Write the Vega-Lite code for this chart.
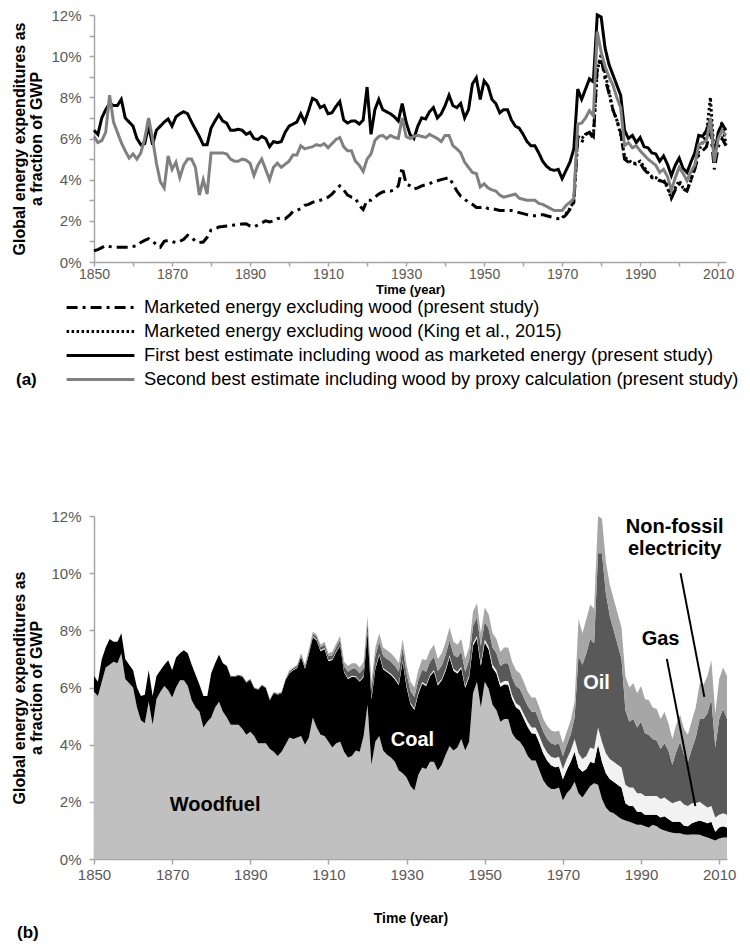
{
"$schema": "https://vega.github.io/schema/vega-lite/v6.json",
"background": "white",
"padding": {"left": 11, "top": 8, "right": 5, "bottom": 5},
"spacing": 120,
"columns": 1,
"align": "none",
"resolve": {"scale": {"color": "independent", "strokeDash": "independent"}, "legend": {"color": "independent", "strokeDash": "independent"}},
"config": {
 "view": {"stroke": null},
 "font": "Liberation Sans",
 "axis": {"grid": false, "domainColor": "#a6a6a6", "tickColor": "#a6a6a6", "labelColor": "#595959", "labelFontSize": 15, "labelFont": "Liberation Sans", "titleFont": "Liberation Sans", "titleFontSize": 14, "titleFontWeight": "bold", "titleColor": "#000000", "tickSize": 5, "labelPadding": 3, "domainWidth": 1.5, "tickWidth": 1.5, "labelFlush": false, "labelOverlap": false},
 "axisY": {"labelPadding": 8, "titleFontSize": 16, "titleLineHeight": 17}
},
"datasets": {"energy": [
{"y":1850,"a":6.4,"b":6.1,"c":0.55,"w":5.85,"k":0.55,"g":0,"o":0,"e":0},
{"y":1851,"a":6.2,"b":5.8,"c":0.6,"w":5.7,"k":0.5,"g":0,"o":0,"e":0},
{"y":1852,"a":7.0,"b":5.9,"c":0.7,"w":6.2,"k":0.8,"g":0,"o":0,"e":0},
{"y":1853,"a":7.4,"b":6.3,"c":0.8,"w":6.7,"k":0.7,"g":0,"o":0,"e":0},
{"y":1854,"a":7.7,"b":8.1,"c":0.75,"w":6.8,"k":0.9,"g":0,"o":0,"e":0},
{"y":1855,"a":7.6,"b":6.8,"c":0.72,"w":6.9,"k":0.7,"g":0,"o":0,"e":0},
{"y":1856,"a":7.6,"b":6.3,"c":0.72,"w":6.85,"k":0.75,"g":0,"o":0,"e":0},
{"y":1857,"a":7.9,"b":5.8,"c":0.72,"w":7.2,"k":0.7,"g":0,"o":0,"e":0},
{"y":1858,"a":7.0,"b":5.4,"c":0.72,"w":6.3,"k":0.7,"g":0,"o":0,"e":0},
{"y":1859,"a":6.8,"b":5.05,"c":0.72,"w":6.15,"k":0.65,"g":0,"o":0,"e":0},
{"y":1860,"a":6.6,"b":5.25,"c":0.75,"w":6.0,"k":0.6,"g":0,"o":0,"e":0},
{"y":1861,"a":6.0,"b":5.0,"c":0.8,"w":5.3,"k":0.7,"g":0,"o":0,"e":0},
{"y":1862,"a":5.7,"b":5.3,"c":0.95,"w":4.85,"k":0.85,"g":0,"o":0,"e":0},
{"y":1863,"a":5.75,"b":6.0,"c":1.05,"w":4.75,"k":1.0,"g":0,"o":0,"e":0},
{"y":1864,"a":6.6,"b":7.0,"c":1.13,"w":5.5,"k":1.1,"g":0,"o":0,"e":0},
{"y":1865,"a":5.7,"b":6.0,"c":1.0,"w":4.7,"k":1.0,"g":0,"o":0,"e":0},
{"y":1866,"a":6.4,"b":4.8,"c":0.85,"w":5.6,"k":0.8,"g":0,"o":0,"e":0},
{"y":1867,"a":6.6,"b":3.9,"c":0.72,"w":5.85,"k":0.75,"g":0,"o":0,"e":0},
{"y":1868,"a":6.8,"b":3.6,"c":1.0,"w":6.05,"k":0.75,"g":0,"o":0,"e":0},
{"y":1869,"a":6.95,"b":5.15,"c":1.05,"w":5.9,"k":1.05,"g":0,"o":0,"e":0},
{"y":1870,"a":6.6,"b":4.5,"c":1.0,"w":5.65,"k":0.95,"g":0,"o":0,"e":0},
{"y":1871,"a":7.05,"b":4.85,"c":0.94,"w":6.0,"k":1.05,"g":0,"o":0,"e":0},
{"y":1872,"a":7.2,"b":4.1,"c":1.0,"w":6.25,"k":0.95,"g":0,"o":0,"e":0},
{"y":1873,"a":7.3,"b":4.7,"c":1.1,"w":6.25,"k":1.05,"g":0,"o":0,"e":0},
{"y":1874,"a":7.2,"b":5.0,"c":1.3,"w":6.05,"k":1.15,"g":0,"o":0,"e":0},
{"y":1875,"a":6.8,"b":5.0,"c":1.2,"w":5.55,"k":1.25,"g":0,"o":0,"e":0},
{"y":1876,"a":6.45,"b":4.6,"c":1.0,"w":5.3,"k":1.15,"g":0,"o":0,"e":0},
{"y":1877,"a":6.1,"b":3.25,"c":0.95,"w":5.15,"k":0.95,"g":0,"o":0,"e":0},
{"y":1878,"a":5.7,"b":4.0,"c":0.97,"w":4.6,"k":1.1,"g":0,"o":0,"e":0},
{"y":1879,"a":5.7,"b":3.3,"c":1.2,"w":4.8,"k":0.9,"g":0,"o":0,"e":0},
{"y":1880,"a":6.5,"b":5.3,"c":1.55,"w":4.95,"k":1.55,"g":0,"o":0,"e":0},
{"y":1881,"a":6.85,"b":5.3,"c":1.6,"w":5.3,"k":1.55,"g":0,"o":0,"e":0},
{"y":1882,"a":7.15,"b":5.3,"c":1.7,"w":5.5,"k":1.65,"g":0,"o":0,"e":0},
{"y":1883,"a":6.85,"b":5.3,"c":1.72,"w":5.15,"k":1.7,"g":0,"o":0,"e":0},
{"y":1884,"a":6.75,"b":5.25,"c":1.75,"w":4.95,"k":1.8,"g":0,"o":0,"e":0},
{"y":1885,"a":6.4,"b":5.0,"c":1.78,"w":4.7,"k":1.67,"g":0,"o":0.03,"e":0},
{"y":1886,"a":6.4,"b":4.9,"c":1.8,"w":4.7,"k":1.67,"g":0,"o":0.03,"e":0},
{"y":1887,"a":6.45,"b":4.9,"c":1.82,"w":4.7,"k":1.72,"g":0,"o":0.03,"e":0},
{"y":1888,"a":6.4,"b":5.0,"c":1.85,"w":4.55,"k":1.82,"g":0,"o":0.03,"e":0},
{"y":1889,"a":6.2,"b":4.95,"c":1.86,"w":4.35,"k":1.82,"g":0,"o":0.03,"e":0},
{"y":1890,"a":6.3,"b":4.8,"c":1.75,"w":4.45,"k":1.82,"g":0,"o":0.03,"e":0},
{"y":1891,"a":6.0,"b":4.2,"c":1.7,"w":4.3,"k":1.67,"g":0,"o":0.03,"e":0},
{"y":1892,"a":5.95,"b":4.7,"c":1.8,"w":4.05,"k":1.87,"g":0,"o":0.03,"e":0},
{"y":1893,"a":6.1,"b":5.0,"c":1.9,"w":4.05,"k":2.02,"g":0,"o":0.03,"e":0},
{"y":1894,"a":6.0,"b":4.5,"c":2.0,"w":4.05,"k":1.92,"g":0,"o":0.03,"e":0},
{"y":1895,"a":5.6,"b":4.0,"c":1.95,"w":3.85,"k":1.7,"g":0,"o":0.03,"e":0.02},
{"y":1896,"a":5.85,"b":4.6,"c":2.0,"w":3.75,"k":2.05,"g":0,"o":0.03,"e":0.02},
{"y":1897,"a":5.8,"b":4.8,"c":2.1,"w":3.6,"k":2.15,"g":0,"o":0.03,"e":0.02},
{"y":1898,"a":5.85,"b":4.6,"c":2.15,"w":3.75,"k":2.05,"g":0,"o":0.03,"e":0.02},
{"y":1899,"a":6.3,"b":4.75,"c":2.1,"w":4.0,"k":2.25,"g":0,"o":0.03,"e":0.02},
{"y":1900,"a":6.6,"b":4.9,"c":2.25,"w":4.25,"k":2.25,"g":0.02,"o":0.05,"e":0.03},
{"y":1901,"a":6.7,"b":5.2,"c":2.45,"w":4.2,"k":2.4,"g":0.02,"o":0.05,"e":0.03},
{"y":1902,"a":6.8,"b":5.2,"c":2.5,"w":4.25,"k":2.43,"g":0.02,"o":0.06,"e":0.04},
{"y":1903,"a":7.2,"b":5.65,"c":2.6,"w":4.3,"k":2.78,"g":0.02,"o":0.06,"e":0.04},
{"y":1904,"a":6.8,"b":5.5,"c":2.75,"w":4.0,"k":2.66,"g":0.02,"o":0.07,"e":0.05},
{"y":1905,"a":7.35,"b":5.55,"c":2.8,"w":4.25,"k":2.93,"g":0.03,"o":0.08,"e":0.06},
{"y":1906,"a":7.95,"b":5.6,"c":2.9,"w":4.95,"k":2.81,"g":0.03,"o":0.09,"e":0.07},
{"y":1907,"a":7.85,"b":5.7,"c":2.95,"w":4.6,"k":3.04,"g":0.03,"o":0.1,"e":0.08},
{"y":1908,"a":7.5,"b":5.65,"c":3.0,"w":4.35,"k":2.92,"g":0.03,"o":0.11,"e":0.09},
{"y":1909,"a":7.6,"b":5.75,"c":3.05,"w":4.3,"k":3.05,"g":0.03,"o":0.12,"e":0.1},
{"y":1910,"a":7.2,"b":5.55,"c":3.15,"w":4.1,"k":2.83,"g":0.03,"o":0.13,"e":0.11},
{"y":1911,"a":7.25,"b":5.75,"c":3.3,"w":3.9,"k":3.06,"g":0.03,"o":0.14,"e":0.12},
{"y":1912,"a":7.55,"b":5.95,"c":3.5,"w":4.05,"k":3.19,"g":0.03,"o":0.15,"e":0.13},
{"y":1913,"a":7.8,"b":6.05,"c":3.7,"w":4.1,"k":3.37,"g":0.03,"o":0.16,"e":0.14},
{"y":1914,"a":6.9,"b":5.6,"c":3.5,"w":3.75,"k":2.78,"g":0.03,"o":0.18,"e":0.16},
{"y":1915,"a":6.75,"b":5.4,"c":3.25,"w":3.55,"k":2.75,"g":0.03,"o":0.22,"e":0.2},
{"y":1916,"a":6.85,"b":5.4,"c":3.15,"w":3.6,"k":2.78,"g":0.03,"o":0.24,"e":0.2},
{"y":1917,"a":6.85,"b":4.9,"c":3.1,"w":3.8,"k":2.56,"g":0.03,"o":0.26,"e":0.2},
{"y":1918,"a":6.7,"b":4.7,"c":2.75,"w":3.75,"k":2.46,"g":0.03,"o":0.26,"e":0.2},
{"y":1919,"a":6.9,"b":4.4,"c":2.55,"w":4.3,"k":2.07,"g":0.03,"o":0.28,"e":0.22},
{"y":1920,"a":8.5,"b":5.0,"c":3.0,"w":5.4,"k":2.55,"g":0.03,"o":0.3,"e":0.22},
{"y":1921,"a":6.2,"b":5.25,"c":3.0,"w":3.3,"k":2.28,"g":0.04,"o":0.32,"e":0.26},
{"y":1922,"a":7.4,"b":5.9,"c":3.15,"w":4.1,"k":2.56,"g":0.04,"o":0.4,"e":0.3},
{"y":1923,"a":7.9,"b":6.1,"c":3.3,"w":4.3,"k":2.84,"g":0.04,"o":0.42,"e":0.3},
{"y":1924,"a":7.4,"b":6.15,"c":3.4,"w":3.8,"k":2.84,"g":0.04,"o":0.42,"e":0.3},
{"y":1925,"a":7.3,"b":6.0,"c":3.45,"w":3.65,"k":2.89,"g":0.04,"o":0.42,"e":0.3},
{"y":1926,"a":7.2,"b":6.15,"c":3.45,"w":3.55,"k":2.89,"g":0.04,"o":0.42,"e":0.3},
{"y":1927,"a":7.05,"b":6.05,"c":3.5,"w":3.4,"k":2.89,"g":0.04,"o":0.42,"e":0.3},
{"y":1928,"a":6.85,"b":6.0,"c":3.7,"w":3.1,"k":2.99,"g":0.04,"o":0.42,"e":0.3},
{"y":1929,"a":7.7,"b":7.0,"c":4.6,"w":3.0,"k":3.91,"g":0.04,"o":0.45,"e":0.3},
{"y":1930,"a":6.8,"b":6.1,"c":3.8,"w":2.85,"k":3.16,"g":0.05,"o":0.42,"e":0.32},
{"y":1931,"a":6.2,"b":6.0,"c":3.7,"w":2.55,"k":2.86,"g":0.05,"o":0.42,"e":0.32},
{"y":1932,"a":6.0,"b":6.1,"c":3.55,"w":2.4,"k":2.82,"g":0.05,"o":0.4,"e":0.33},
{"y":1933,"a":6.6,"b":6.15,"c":3.6,"w":2.95,"k":2.83,"g":0.05,"o":0.42,"e":0.35},
{"y":1934,"a":7.0,"b":6.1,"c":3.7,"w":3.2,"k":2.94,"g":0.05,"o":0.43,"e":0.38},
{"y":1935,"a":6.95,"b":6.05,"c":3.75,"w":3.15,"k":2.9,"g":0.05,"o":0.45,"e":0.4},
{"y":1936,"a":7.3,"b":6.2,"c":3.8,"w":3.4,"k":3.0,"g":0.05,"o":0.45,"e":0.4},
{"y":1937,"a":7.5,"b":6.1,"c":3.9,"w":3.4,"k":3.16,"g":0.05,"o":0.47,"e":0.42},
{"y":1938,"a":7.0,"b":6.0,"c":3.95,"w":3.1,"k":2.98,"g":0.05,"o":0.45,"e":0.42},
{"y":1939,"a":7.2,"b":5.85,"c":4.0,"w":3.3,"k":2.95,"g":0.05,"o":0.47,"e":0.43},
{"y":1940,"a":7.6,"b":6.15,"c":4.05,"w":3.65,"k":2.94,"g":0.06,"o":0.5,"e":0.45},
{"y":1941,"a":8.1,"b":6.15,"c":4.1,"w":3.95,"k":3.12,"g":0.06,"o":0.52,"e":0.45},
{"y":1942,"a":7.6,"b":5.65,"c":3.8,"w":3.8,"k":2.79,"g":0.06,"o":0.5,"e":0.45},
{"y":1943,"a":7.5,"b":5.5,"c":3.45,"w":3.9,"k":2.59,"g":0.06,"o":0.5,"e":0.45},
{"y":1944,"a":7.7,"b":5.3,"c":3.2,"w":4.2,"k":2.47,"g":0.06,"o":0.52,"e":0.45},
{"y":1945,"a":7.0,"b":4.85,"c":3.05,"w":3.8,"k":2.19,"g":0.06,"o":0.5,"e":0.45},
{"y":1946,"a":7.4,"b":4.6,"c":2.9,"w":4.1,"k":2.26,"g":0.07,"o":0.52,"e":0.45},
{"y":1947,"a":8.65,"b":4.35,"c":2.8,"w":5.8,"k":1.67,"g":0.08,"o":0.6,"e":0.5},
{"y":1948,"a":8.95,"b":4.3,"c":2.65,"w":6.2,"k":1.52,"g":0.08,"o":0.65,"e":0.5},
{"y":1949,"a":7.9,"b":3.65,"c":2.65,"w":5.3,"k":1.46,"g":0.09,"o":0.6,"e":0.45},
{"y":1950,"a":8.8,"b":3.8,"c":2.7,"w":6.2,"k":1.38,"g":0.1,"o":0.62,"e":0.5},
{"y":1951,"a":8.55,"b":3.6,"c":2.6,"w":5.95,"k":1.38,"g":0.1,"o":0.62,"e":0.5},
{"y":1952,"a":7.9,"b":3.5,"c":2.6,"w":5.4,"k":1.29,"g":0.11,"o":0.6,"e":0.5},
{"y":1953,"a":7.7,"b":3.45,"c":2.55,"w":5.2,"k":1.29,"g":0.11,"o":0.6,"e":0.5},
{"y":1954,"a":7.25,"b":3.25,"c":2.5,"w":4.8,"k":1.23,"g":0.12,"o":0.6,"e":0.5},
{"y":1955,"a":7.4,"b":3.15,"c":2.5,"w":4.9,"k":1.21,"g":0.12,"o":0.62,"e":0.55},
{"y":1956,"a":7.4,"b":3.2,"c":2.5,"w":4.9,"k":1.2,"g":0.13,"o":0.62,"e":0.55},
{"y":1957,"a":6.9,"b":3.25,"c":2.5,"w":4.4,"k":1.21,"g":0.14,"o":0.6,"e":0.55},
{"y":1958,"a":6.6,"b":3.3,"c":2.45,"w":4.2,"k":1.11,"g":0.14,"o":0.6,"e":0.55},
{"y":1959,"a":6.5,"b":3.1,"c":2.4,"w":4.1,"k":1.1,"g":0.15,"o":0.6,"e":0.55},
{"y":1960,"a":6.2,"b":3.05,"c":2.35,"w":3.9,"k":1.01,"g":0.16,"o":0.58,"e":0.55},
{"y":1961,"a":5.85,"b":3.0,"c":2.3,"w":3.6,"k":1.02,"g":0.18,"o":0.55,"e":0.5},
{"y":1962,"a":5.65,"b":3.0,"c":2.25,"w":3.45,"k":0.95,"g":0.2,"o":0.55,"e":0.5},
{"y":1963,"a":5.65,"b":3.0,"c":2.25,"w":3.45,"k":0.93,"g":0.22,"o":0.55,"e":0.5},
{"y":1964,"a":5.3,"b":2.85,"c":2.25,"w":3.1,"k":0.96,"g":0.24,"o":0.52,"e":0.48},
{"y":1965,"a":4.9,"b":2.8,"c":2.3,"w":2.75,"k":0.94,"g":0.26,"o":0.5,"e":0.45},
{"y":1966,"a":4.65,"b":2.7,"c":2.25,"w":2.55,"k":0.89,"g":0.28,"o":0.48,"e":0.45},
{"y":1967,"a":4.5,"b":2.6,"c":2.2,"w":2.45,"k":0.83,"g":0.3,"o":0.47,"e":0.45},
{"y":1968,"a":4.45,"b":2.5,"c":2.15,"w":2.45,"k":0.76,"g":0.32,"o":0.47,"e":0.45},
{"y":1969,"a":4.5,"b":2.5,"c":2.1,"w":2.5,"k":0.74,"g":0.34,"o":0.47,"e":0.45},
{"y":1970,"a":4.05,"b":2.5,"c":2.1,"d":2.15,"w":2.05,"k":0.74,"g":0.36,"o":0.45,"e":0.45},
{"y":1971,"a":4.45,"b":2.75,"c":2.3,"d":2.35,"w":2.3,"k":0.82,"g":0.38,"o":0.5,"e":0.45},
{"y":1972,"a":4.85,"b":2.9,"c":2.55,"d":2.6,"w":2.45,"k":0.95,"g":0.4,"o":0.55,"e":0.5},
{"y":1973,"a":5.5,"b":3.1,"c":2.9,"d":2.95,"w":2.7,"k":1.05,"g":0.45,"o":0.75,"e":0.55},
{"y":1974,"a":8.4,"b":6.7,"c":6.0,"d":6.1,"w":2.3,"k":0.9,"g":0.5,"o":3.4,"e":1.3},
{"y":1975,"a":7.9,"b":6.75,"c":5.8,"d":6.0,"w":2.15,"k":0.9,"g":0.45,"o":3.3,"e":1.1},
{"y":1976,"a":8.4,"b":7.0,"c":6.2,"d":6.2,"w":2.35,"k":0.8,"g":0.45,"o":3.6,"e":1.2},
{"y":1977,"a":8.9,"b":7.35,"c":6.3,"d":6.3,"w":2.55,"k":0.85,"g":0.5,"o":3.8,"e":1.2},
{"y":1978,"a":8.75,"b":7.1,"c":6.0,"d":6.1,"w":2.65,"k":0.7,"g":0.5,"o":3.7,"e":1.2},
{"y":1979,"a":12.0,"b":11.2,"c":9.5,"d":9.3,"w":2.6,"k":1.4,"g":0.6,"o":6.1,"e":1.3},
{"y":1980,"a":11.9,"b":10.2,"c":9.9,"d":10.1,"w":2.1,"k":1.3,"g":0.7,"o":6.6,"e":1.2},
{"y":1981,"a":10.4,"b":9.5,"c":8.9,"d":9.2,"w":1.8,"k":1.2,"g":0.7,"o":5.6,"e":1.1},
{"y":1982,"a":9.6,"b":9.0,"c":8.2,"d":8.3,"w":1.65,"k":1.15,"g":0.7,"o":5.0,"e":1.1},
{"y":1983,"a":9.1,"b":8.6,"c":7.4,"d":7.4,"w":1.6,"k":1.1,"g":0.7,"o":4.6,"e":1.1},
{"y":1984,"a":8.6,"b":8.0,"c":6.9,"d":6.9,"w":1.5,"k":1.1,"g":0.7,"o":4.2,"e":1.1},
{"y":1985,"a":8.1,"b":7.5,"c":6.3,"d":6.2,"w":1.4,"k":1.1,"g":0.7,"o":3.8,"e":1.1},
{"y":1986,"a":6.4,"b":5.65,"c":5.0,"d":5.1,"w":1.35,"k":0.6,"g":0.65,"o":2.6,"e":1.2},
{"y":1987,"a":6.0,"b":5.8,"c":4.85,"d":4.95,"w":1.3,"k":0.55,"g":0.65,"o":2.3,"e":1.2},
{"y":1988,"a":6.15,"b":5.55,"c":4.8,"d":4.8,"w":1.25,"k":0.6,"g":0.65,"o":2.4,"e":1.25},
{"y":1989,"a":5.8,"b":5.65,"c":4.75,"d":4.8,"w":1.2,"k":0.45,"g":0.65,"o":2.3,"e":1.2},
{"y":1990,"a":6.05,"b":5.4,"c":4.8,"d":4.9,"w":1.2,"k":0.45,"g":0.65,"o":2.5,"e":1.25},
{"y":1991,"a":5.6,"b":5.2,"c":4.5,"d":4.6,"w":1.15,"k":0.4,"g":0.65,"o":2.2,"e":1.2},
{"y":1992,"a":5.55,"b":5.0,"c":4.3,"d":4.35,"w":1.1,"k":0.45,"g":0.65,"o":2.15,"e":1.2},
{"y":1993,"a":5.3,"b":4.85,"c":4.1,"d":4.15,"w":1.2,"k":0.35,"g":0.65,"o":2.0,"e":1.1},
{"y":1994,"a":5.25,"b":4.7,"c":4.05,"d":4.1,"w":1.15,"k":0.4,"g":0.65,"o":1.95,"e":1.1},
{"y":1995,"a":4.9,"b":4.35,"c":3.95,"d":3.95,"w":1.05,"k":0.4,"g":0.65,"o":1.75,"e":1.05},
{"y":1996,"a":5.15,"b":4.5,"c":3.9,"d":4.0,"w":1.0,"k":0.5,"g":0.65,"o":1.9,"e":1.1},
{"y":1997,"a":4.75,"b":4.15,"c":3.75,"d":3.6,"w":0.95,"k":0.45,"g":0.65,"o":1.75,"e":0.95},
{"y":1998,"a":4.2,"b":3.5,"c":3.1,"d":3.1,"w":0.92,"k":0.38,"g":0.65,"o":1.35,"e":0.9},
{"y":1999,"a":4.7,"b":4.1,"c":3.5,"d":3.6,"w":0.9,"k":0.4,"g":0.7,"o":1.75,"e":0.95},
{"y":2000,"a":5.05,"b":4.6,"c":3.8,"d":3.95,"w":0.9,"k":0.4,"g":0.75,"o":2.05,"e":0.95},
{"y":2001,"a":4.55,"b":4.3,"c":3.55,"d":3.6,"w":0.86,"k":0.3,"g":0.75,"o":1.74,"e":0.9},
{"y":2002,"a":4.35,"b":3.95,"c":3.45,"d":3.5,"w":0.85,"k":0.3,"g":0.7,"o":1.55,"e":0.95},
{"y":2003,"a":4.85,"b":4.4,"c":4.0,"d":3.95,"w":0.86,"k":0.39,"g":0.7,"o":1.9,"e":1.0},
{"y":2004,"a":5.3,"b":4.7,"c":4.5,"d":4.6,"w":0.86,"k":0.44,"g":0.65,"o":2.3,"e":1.05},
{"y":2005,"a":6.15,"b":5.7,"c":5.2,"d":5.4,"w":0.85,"k":0.5,"g":0.65,"o":2.9,"e":1.25},
{"y":2006,"a":6.1,"b":5.8,"c":5.4,"d":5.8,"w":0.8,"k":0.5,"g":0.6,"o":3.0,"e":1.2},
{"y":2007,"a":6.4,"b":5.9,"c":5.6,"d":6.2,"w":0.75,"k":0.5,"g":0.55,"o":3.3,"e":1.3},
{"y":2008,"a":6.95,"b":7.0,"c":6.5,"d":8.0,"w":0.7,"k":0.6,"g":0.55,"o":3.75,"e":1.35},
{"y":2009,"a":5.1,"b":4.85,"c":4.5,"d":5.0,"w":0.65,"k":0.3,"g":0.5,"o":2.45,"e":1.2},
{"y":2010,"a":6.3,"b":6.0,"c":5.6,"d":6.2,"w":0.72,"k":0.38,"g":0.45,"o":3.35,"e":1.4},
{"y":2011,"a":6.7,"b":6.4,"c":6.0,"d":6.8,"w":0.75,"k":0.4,"g":0.45,"o":3.65,"e":1.45},
{"y":2012,"a":6.4,"b":6.15,"c":5.65,"d":5.7,"w":0.75,"k":0.35,"g":0.45,"o":3.35,"e":1.5}
],
"layers": [{"s": "w", "r": 1}, {"s": "k", "r": 2}, {"s": "g", "r": 3}, {"s": "o", "r": 4}, {"s": "e", "r": 5}]
},
"concat": [
{
 "width": 632, "height": 247,
 "data": {"name": "energy"},
 "transform": [{"fold": ["c", "d", "a", "b"], "as": ["s", "v"]}],
 "mark": {"type": "line", "strokeWidth": 3},
 "encoding": {
  "x": {"field": "y", "type": "quantitative", "scale": {"domain": [1850, 2012], "nice": false, "zero": false},
        "axis": {"values": [1850,1860,1870,1880,1890,1900,1910,1920,1930,1940,1950,1960,1970,1980,1990,2000,2010], "format": "d", "labelExpr": "datum.value % 20 == 0 ? '' : datum.label", "title": "Time (year)", "titleFontSize": 13, "titlePadding": 2, "tickSize": 4, "labelPadding": 1, "labelFontSize": 14}},
  "y": {"field": "v", "type": "quantitative", "scale": {"domain": [0, 12], "nice": false},
        "axis": {"values": [0,1,2,3,4,5,6,7,8,9,10,11,12], "labelExpr": "datum.value % 2 == 1 ? '' : datum.value + '%'", "title": ["Global energy expenditures as", "a fraction of GWP"], "titlePadding": 6}},
  "color": {"field": "s", "type": "nominal", "scale": {"domain": ["c", "d", "a", "b"], "range": ["#000000", "#000000", "#000000", "#808080"]},
        "legend": {"orient": "none", "legendX": -78, "legendY": 283, "direction": "vertical", "title": "(a)", "titleOrient": "left", "titleAnchor": "end", "titleFontSize": 17, "titleFontWeight": "bold", "titleColor": "#000000", "titlePadding": 28, "labelFontSize": 18.3, "labelColor": "#000000", "labelLimit": 800, "labelOffset": 8, "symbolType": "stroke", "symbolSize": 4600, "symbolStrokeWidth": 3, "clipHeight": 19, "rowPadding": 4,
          "labelExpr": "datum.label == 'c' ? 'Marketed energy excluding wood (present study)' : datum.label == 'd' ? 'Marketed energy excluding wood (King et al., 2015)' : datum.label == 'a' ? 'First best estimate including wood as marketed energy (present study)' : 'Second best estimate including wood by proxy calculation (present study)'"}},
  "strokeDash": {"field": "s", "type": "nominal", "scale": {"domain": ["c", "d", "a", "b"], "range": [[11, 5, 3, 5], [2.5, 2.5], [1, 0], [1, 0]]},
        "legend": {"orient": "none", "legendX": -78, "legendY": 283, "direction": "vertical", "title": "(a)", "titleOrient": "left", "titleAnchor": "end", "titleFontSize": 17, "titleFontWeight": "bold", "titleColor": "#000000", "titlePadding": 28, "labelFontSize": 18.3, "labelColor": "#000000", "labelLimit": 800, "labelOffset": 8, "symbolType": "stroke", "symbolSize": 4600, "symbolStrokeWidth": 3, "clipHeight": 19, "rowPadding": 4,
          "labelExpr": "datum.label == 'c' ? 'Marketed energy excluding wood (present study)' : datum.label == 'd' ? 'Marketed energy excluding wood (King et al., 2015)' : datum.label == 'a' ? 'First best estimate including wood as marketed energy (present study)' : 'Second best estimate including wood by proxy calculation (present study)'"}}
 }
},
{
 "width": 633, "height": 343,
 "title": {"text": "(b)", "orient": "bottom", "anchor": "start", "frame": "group", "dx": -77, "offset": 0, "fontSize": 17, "fontWeight": "bold", "color": "#000000", "font": "Liberation Sans"},
 "layer": [
  {
   "data": {"name": "energy"},
   "transform": [
     {"fold": ["w", "k", "g", "o", "e"], "as": ["s", "v"]},
     {"lookup": "s", "from": {"data": {"name": "layers"}, "key": "s", "fields": ["r"]}}
   ],
   "mark": {"type": "area"},
   "encoding": {
    "x": {"field": "y", "type": "quantitative", "scale": {"domain": [1850, 2012], "nice": false, "zero": false},
          "axis": {"values": [1850,1860,1870,1880,1890,1900,1910,1920,1930,1940,1950,1960,1970,1980,1990,2000,2010], "format": "d", "labelExpr": "datum.value % 20 == 0 ? '' : datum.label", "title": "Time (year)", "titlePadding": 29}},
    "y": {"field": "v", "type": "quantitative", "stack": "zero", "scale": {"domain": [0, 12], "nice": false},
          "axis": {"values": [0,1,2,3,4,5,6,7,8,9,10,11,12], "labelExpr": "datum.value % 2 == 1 ? '' : datum.value + '%'", "title": ["Global energy expenditures as", "a fraction of GWP"], "titlePadding": 6}},
    "color": {"field": "s", "type": "nominal", "scale": {"domain": ["w", "k", "g", "o", "e"], "range": ["#c0c0c0", "#000000", "#f2f2f2", "#595959", "#a6a6a6"]}, "legend": null},
    "order": {"field": "r", "type": "quantitative", "sort": "ascending"}
   }
  },
  {
   "data": {"values": [
     {"y": 1881, "v": 1.9, "t": "Woodfuel"},
     {"y": 1931.5, "v": 4.16, "t": "Coal"},
     {"y": 1978.6, "v": 6.16, "t": "Oil"},
     {"y": 1995, "v": 7.7, "t": "Gas"},
     {"y": 1998.6, "v": 11.6, "t": "Non-fossil"},
     {"y": 1998.6, "v": 10.85, "t": "electricity"}
   ]},
   "mark": {"type": "text", "fontSize": 20, "fontWeight": "bold", "font": "Liberation Sans", "align": "center", "baseline": "middle"},
   "encoding": {
    "x": {"field": "y", "type": "quantitative"},
    "y": {"field": "v", "type": "quantitative"},
    "text": {"field": "t"},
    "color": {"condition": {"test": "datum.t == 'Coal' || datum.t == 'Oil'", "value": "#ffffff"}, "value": "#000000"}
   }
  },
  {
   "data": {"values": [
     {"y": 1996.6, "v": 7.0, "ye": 2003.9, "ve": 1.85},
     {"y": 2000.1, "v": 10.0, "ye": 2006.2, "ve": 5.67}
   ]},
   "mark": {"type": "rule", "strokeWidth": 2, "color": "#000000"},
   "encoding": {
    "x": {"field": "y", "type": "quantitative"},
    "y": {"field": "v", "type": "quantitative"},
    "x2": {"field": "ye"},
    "y2": {"field": "ve"}
   }
  }
 ]
}
]
}
